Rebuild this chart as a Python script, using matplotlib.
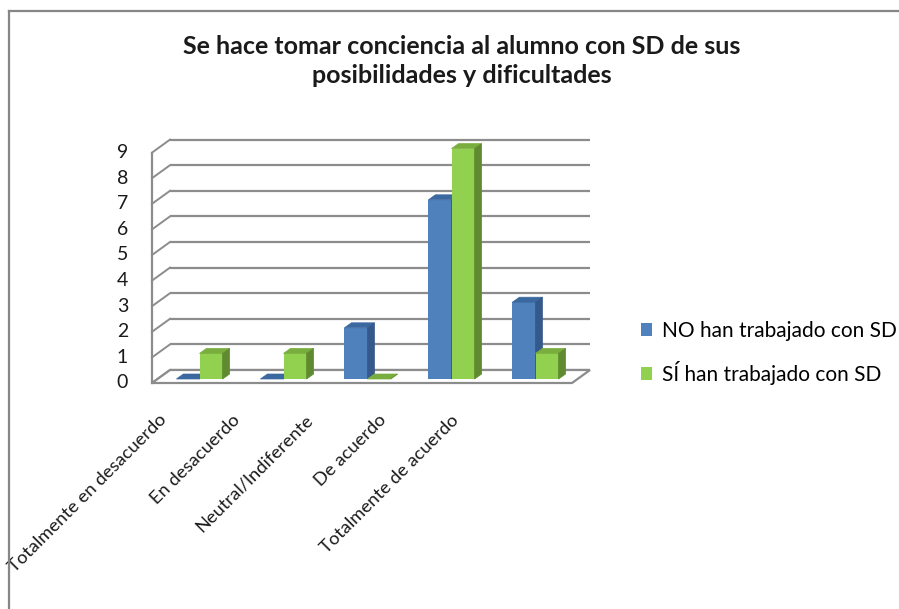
#!/usr/bin/env python3
"""Excel-style 3D clustered column chart, redrawn with matplotlib."""

import matplotlib
matplotlib.use("Agg")
import matplotlib.pyplot as plt
from matplotlib.lines import Line2D
from matplotlib.patches import Patch, Polygon

# ---- data -------------------------------------------------------------
categories = [
    "Totalmente en desacuerdo",
    "En desacuerdo",
    "Neutral/Indiferente",
    "De acuerdo",
    "Totalmente de acuerdo",
]
series_names = ["NO han trabajado con SD", "SÍ han trabajado con SD"]
no_values = [0, 0, 2, 7, 3]
si_values = [1, 1, 0, 9, 1]
y_ticks = list(range(0, 10))
title = "Se hace tomar conciencia al alumno con SD de sus\nposibilidades y dificultades"

# ---- style ------------------------------------------------------------
FONT = ["Lato", "DejaVu Sans"]
GRID = "#8c8c8c"
COLORS = {
    "no": ("#4f81bd", "#3c68a0", "#34598a"),   # front, top, side
    "si": ("#92d050", "#79ae3f", "#5f8a2f"),
}
W, H, DPI = 899, 609, 100

# bar plane (pixel box in the image)
LEFT, RIGHT, BOTTOM, TOP = 157.5, 577.5, 379.0, 148.6
PX_X = (RIGHT - LEFT) / len(categories)
PX_Y = (BOTTOM - TOP) / 9.0


def off(dx_px, dy_px):
    """pixel offset -> data offset (y up)"""
    return dx_px / PX_X, dy_px / PX_Y


BACK = off(12.5, 9.0)
FRONT = off(-5.5, -4.0)
DEPTH = off(7.0, 5.0)
BAR_W = 0.275


def bar3d(ax, rects, colors):
    front, top, side = colors
    dx, dy = DEPTH
    for r in rects:
        x0, w, h = r.get_x(), r.get_width(), r.get_height()
        x1 = x0 + w
        ax.add_patch(Polygon([(x0, h), (x1, h), (x1 + dx, h + dy), (x0 + dx, h + dy)],
                             closed=True, facecolor=top, edgecolor=top, lw=0.5,
                             zorder=r.get_zorder(), clip_on=False))
        ax.add_patch(Polygon([(x1, 0), (x1 + dx, dy), (x1 + dx, h + dy), (x1, h)],
                             closed=True, facecolor=side, edgecolor=side, lw=0.5,
                             zorder=r.get_zorder(), clip_on=False))


def main():
    plt.rcParams["font.family"] = FONT
    fig = plt.figure(figsize=(W / DPI, H / DPI), dpi=DPI)
    fig.patch.set_facecolor("white")
    ax = fig.add_axes([LEFT / W, 1 - BOTTOM / H, (RIGHT - LEFT) / W, (BOTTOM - TOP) / H])
    ax.set_xlim(-0.5, len(categories) - 0.5)
    ax.set_ylim(0, 9)
    ax.axis("off")

    xs = list(range(len(categories)))
    x_lo, x_hi = -0.5, len(categories) - 0.5
    bx, by = BACK
    fx, fy = FRONT

    # floor
    ax.add_patch(Polygon([(x_lo + fx, fy), (x_hi + fx, fy), (x_hi + bx, by), (x_lo + bx, by)],
                         closed=True, facecolor="white", edgecolor=GRID, lw=1.6,
                         zorder=1, clip_on=False))
    # back wall gridlines + left wall diagonals
    for v in y_ticks:
        ax.plot([x_lo + bx, x_hi + bx], [v + by, v + by], color=GRID, lw=1.6,
                zorder=0.5, clip_on=False, solid_capstyle="butt")
        ax.plot([x_lo + fx, x_lo + bx], [v + fy, v + by], color=GRID, lw=1.4,
                zorder=0.5, clip_on=False)
        ax.text(x_lo + fx - 24 / PX_X, v + fy, str(v), ha="right", va="center",
                fontsize=14, color="#1a1a1a")
    ax.plot([x_lo + fx, x_lo + fx], [fy, y_ticks[-1] + fy], color=GRID, lw=1.6,
            zorder=0.5, clip_on=False)

    # bars
    bars_no = ax.bar([x - BAR_W / 2 for x in xs], no_values, width=BAR_W,
                     color=COLORS["no"][0], zorder=3, clip_on=False)
    bar3d(ax, bars_no, COLORS["no"])
    bars_si = ax.bar([x + BAR_W / 2 for x in xs], si_values, width=BAR_W,
                     color=COLORS["si"][0], zorder=4, clip_on=False)
    bar3d(ax, bars_si, COLORS["si"])

    # category labels (Excel squeezes them a bit)
    for i, lab in enumerate(categories):
        ax.text(i * 0.869 - 0.42, -1.50, lab, rotation=45, rotation_mode="anchor",
                ha="right", va="center", fontsize=13.2, color="#1a1a1a")

    # legend
    handles = [Patch(facecolor=COLORS["no"][0]), Patch(facecolor=COLORS["si"][0])]
    fig.legend(handles, series_names, loc="center left",
               bbox_to_anchor=(622 / W, 1 - 353 / H), frameon=False,
               fontsize=15, handlelength=0.55, handleheight=0.55,
               handletextpad=0.45, labelspacing=0.95)

    fig.text(462 / W, 1 - 61 / H, title, ha="center", va="center", fontsize=18,
             fontweight="bold", color="#1a1a1a", linespacing=1.35)

    # chart border (only top and left are inside the crop)
    fig.add_artist(Line2D([9 / W, 1], [1 - 11 / H, 1 - 11 / H], color="#868686", lw=1.6))
    fig.add_artist(Line2D([9 / W, 9 / W], [0, 1 - 11 / H], color="#868686", lw=1.6))

    fig.savefig("out.png", dpi=DPI)


if __name__ == "__main__":
    main()
